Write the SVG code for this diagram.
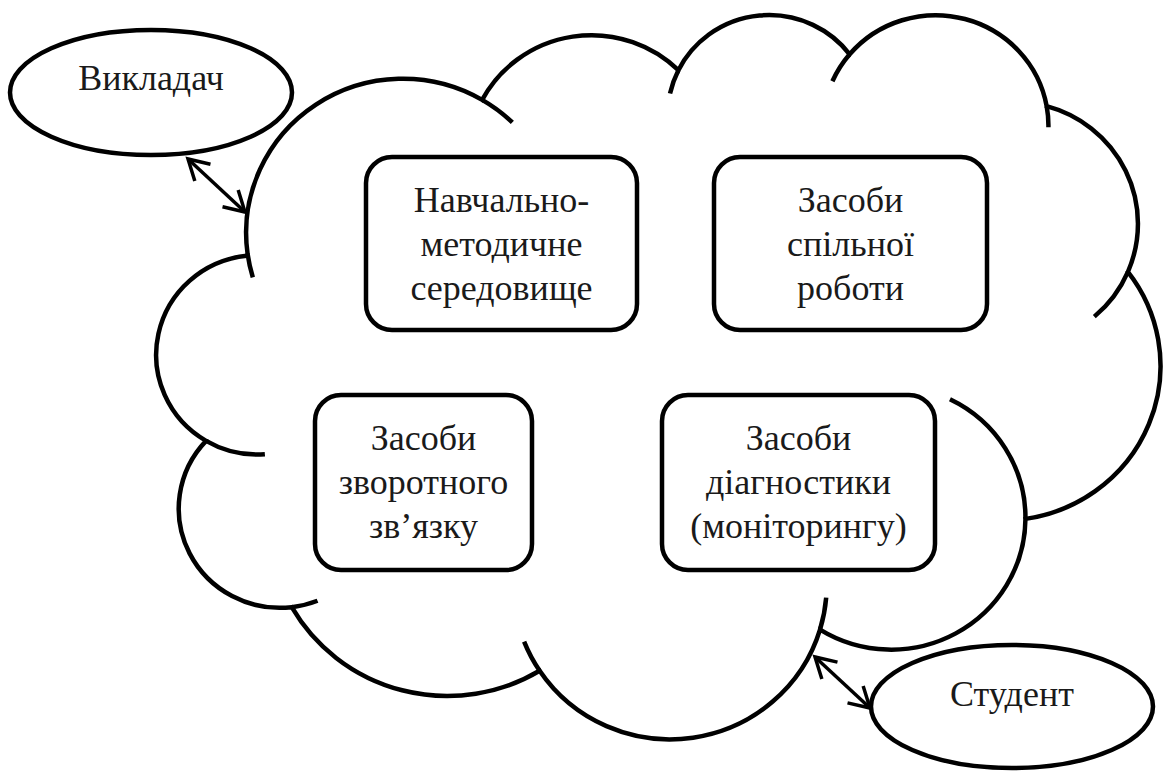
<svg xmlns="http://www.w3.org/2000/svg" width="1163" height="771" viewBox="0 0 1163 771">
<style>
  .shape { fill: #fff; stroke: #000; stroke-width: 4.5; }
  .cl { stroke: #000; stroke-width: 4.5; vector-effect: non-scaling-stroke; }
  .txt { font-family: "Liberation Serif", "Times New Roman", serif; font-size: 36px; fill: #1a1a1a; text-anchor: middle; }
  .conn { fill: none; stroke: #000; stroke-width: 3.5; }
</style>
<defs>
  <marker id="ah" viewBox="-24 -14 27 28" refX="0" refY="0" markerWidth="27" markerHeight="28" markerUnits="userSpaceOnUse" orient="auto-start-reverse" overflow="visible">
    <path d="M-20,-11.5 L0,0 L-20,11.5" fill="none" stroke="#000" stroke-width="3.5"/>
  </marker>
</defs>
<rect width="1163" height="771" fill="#fff"/>

<g id="cloud" transform="translate(157,12.7) scale(0.023218,0.016759)">
  <path class="cl" fill="#fff" d="M 3900 14370 A 6753 9190 0 0 1 14005 5202 A 5333 7267 0 0 1 22456 3432 A 4365 5945 0 0 1 29833 2481 A 4857 6595 0 0 1 38318 5576 A 5333 7273 0 0 1 41818 15459 A 6775 9220 0 0 1 37404 30203 A 5785 7867 0 0 1 28556 36813 A 6752 9215 0 0 1 16480 39264 A 7720 10543 0 0 1 5805 35470 A 4360 5918 0 0 1 2113 25548 A 4345 5945 0 0 1 3863 14504 Z"/>
  <path class="cl" fill="none" d="M 4646 26345 A 4345 5945 0 0 1 2113 25548 M 6913 35088 A 4360 5918 0 0 1 5805 35470 M 16480 39264 A 6752 9215 0 0 1 15812 37524 M 28822 34904 A 6752 9215 0 0 1 28556 36813 M 34153 23067 A 5785 7867 0 0 1 37404 30203 M 41818 15459 A 5333 7273 0 0 1 40370 18135 M 38318 5576 A 4857 6595 0 0 1 38394 6839 M 29091 4092 A 4857 6595 0 0 1 29833 2481 M 22096 4822 A 4365 5945 0 0 1 22456 3432 M 14005 5202 A 6753 9190 0 0 1 15305 6550 M 4127 15789 A 6753 9190 0 0 1 3900 14370"/>
</g>

<g id="teacher">
  <ellipse class="shape" cx="151" cy="92.5" rx="141" ry="62.5"/>
  <text class="txt" x="151" y="90">Викладач</text>
</g>

<g id="student">
  <ellipse class="shape" cx="1012" cy="706.5" rx="141" ry="61.5"/>
  <text class="txt" x="1012" y="706">Студент</text>
</g>

<g id="box1">
  <rect class="shape" x="366" y="157" width="271" height="173" rx="26" ry="26"/>
  <text class="txt" x="501.5" y="212">Навчально-</text>
  <text class="txt" x="501.5" y="256">методичне</text>
  <text class="txt" x="501.5" y="300">середовище</text>
</g>

<g id="box2">
  <rect class="shape" x="714" y="157" width="273" height="173" rx="26" ry="26"/>
  <text class="txt" x="850.5" y="212">Засоби</text>
  <text class="txt" x="850.5" y="256">спільної</text>
  <text class="txt" x="850.5" y="300">роботи</text>
</g>

<g id="box3">
  <rect class="shape" x="315" y="395" width="217" height="175" rx="26" ry="26"/>
  <text class="txt" x="423.5" y="450">Засоби</text>
  <text class="txt" x="423.5" y="494">зворотного</text>
  <text class="txt" x="423.5" y="538">зв’язку</text>
</g>

<g id="box4">
  <rect class="shape" x="662" y="395" width="273" height="175" rx="26" ry="26"/>
  <text class="txt" x="798.5" y="450">Засоби</text>
  <text class="txt" x="798.5" y="494">діагностики</text>
  <text class="txt" x="798.5" y="538">(моніторингу)</text>
</g>

<g id="connectors">
  <line class="conn" x1="188" y1="159" x2="245" y2="212" marker-start="url(#ah)" marker-end="url(#ah)"/>
  <line class="conn" x1="815" y1="657" x2="870" y2="708" marker-start="url(#ah)" marker-end="url(#ah)"/>
</g>
</svg>
